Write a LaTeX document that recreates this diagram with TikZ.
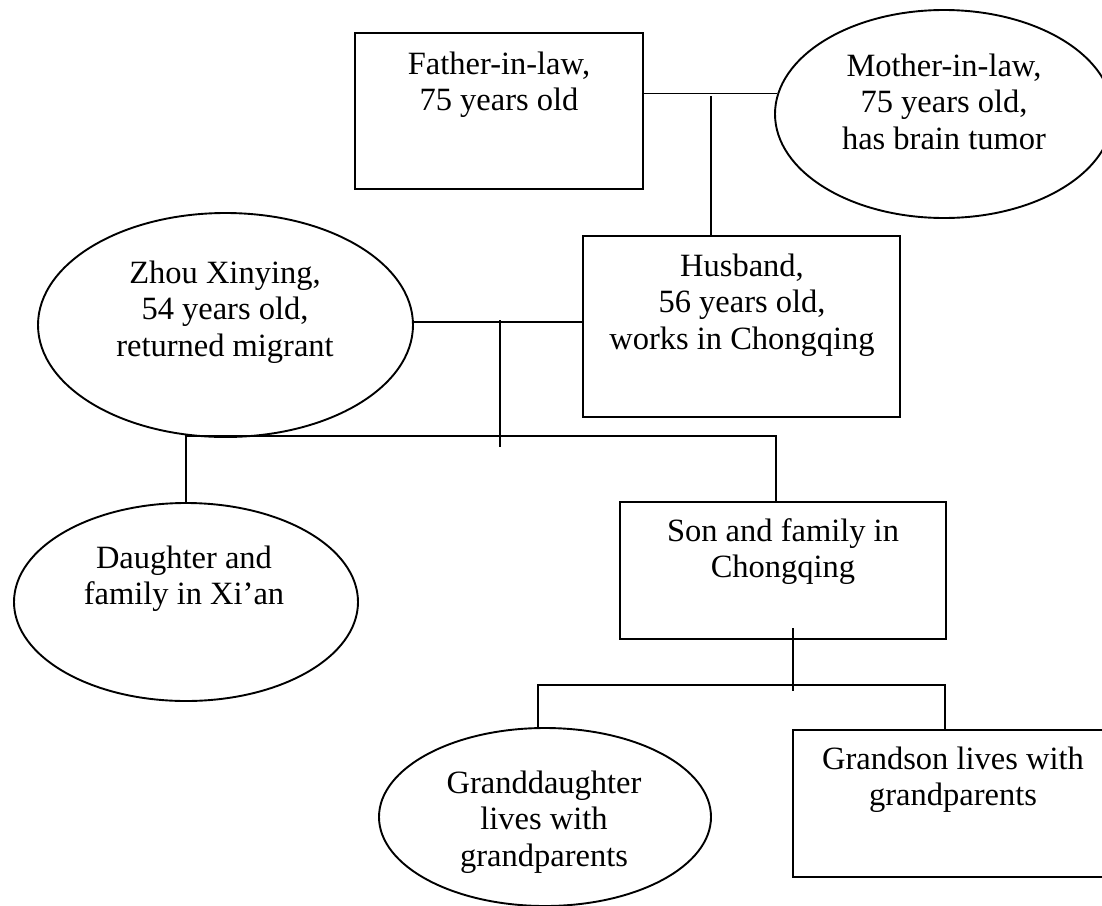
\documentclass[tikz,border=0pt]{standalone}
\usepackage{fontspec}
\setmainfont{Liberation Serif}
\usetikzlibrary{shapes.geometric}
\begin{document}
\begin{tikzpicture}[x=1pt,y=-1pt,line width=1.9pt,
  member/.style={draw,inner sep=0pt,line width=1.9pt},
  boxmember/.style={member,rectangle},
  ovalmember/.style={member,ellipse},
  caption/.style={align=center,inner sep=0pt,anchor=north,
    font=\fontsize{32.5}{36.8}\selectfont}]
\useasboundingbox (0,0) rectangle (1102,905);

% family members
\node[boxmember,minimum width=288pt,minimum height=156pt] (father) at (499,111) {};
\node[ovalmember,minimum width=338pt,minimum height=208pt] (mother) at (944,114) {};
\node[boxmember,minimum width=317pt,minimum height=181pt] (husband) at (741.5,326.5) {};
\node[ovalmember,minimum width=375pt,minimum height=224pt] (zhou) at (225.5,325) {};
\node[boxmember,minimum width=326pt,minimum height=137pt] (son) at (783,570.5) {};
\node[ovalmember,minimum width=344pt,minimum height=198pt] (daughter) at (186,602) {};
\node[ovalmember,minimum width=332pt,minimum height=178pt] (gdaughter) at (545,817) {};
\node[boxmember,minimum width=320pt,minimum height=147pt] (gson) at (953,803.5) {};

% captions
\node[caption] (fatherT) at (499,47.3) {\strut Father-in-law,\\75 years old};
\node[caption] (motherT) at (944,49.3) {\strut Mother-in-law,\\75 years old,\\has brain tumor};
\node[caption] (husbandT) at (742,249.3) {\strut Husband,\\56 years old,\\works in Chongqing};
\node[caption] (zhouT) at (225,256.3) {\strut Zhou Xinying,\\54 years old,\\returned migrant};
\node[caption] (sonT) at (783,514.3) {\strut Son and family in\\Chongqing};
\node[caption] (daughterT) at (184,541.3) {\strut Daughter and\\family in Xi’an};
\node[caption] (gdaughterT) at (544,766.3) {\strut Granddaughter\\lives with\\grandparents};
\node[caption] (gsonT) at (953,742.3) {\strut Grandson lives with\\grandparents};

% junction points of the family lines
\coordinate (pj) at (711,96);
\coordinate (cj) at (500,320);
\coordinate (cjend) at (500,447);
\coordinate (kidbar) at (500,436);
\coordinate (sontop) at (776,502);
\coordinate (sv1) at (793,628);
\coordinate (sv2) at (793,691);
\coordinate (gbar) at (793,685);
\coordinate (gdtop) at (538,728);
\coordinate (gstop) at (945,730);

% parents of the husband
\draw (mother.173.8 -| father.east) -- (mother.173.8);
\draw (pj) -- (pj |- husband.north);

% couple and their children
\draw (zhou.1.5) -- (zhou.1.5 -| husband.west);
\draw (cj) -- (cjend);
\draw (daughter.north) -- (daughter.north |- kidbar) -- (kidbar -| sontop) -- (sontop);

% grandchildren
\draw (sv1) -- (sv2);
\draw (gdtop) -- (gdtop |- gbar) -- (gbar -| gstop) -- (gstop);
\end{tikzpicture}
\end{document}
